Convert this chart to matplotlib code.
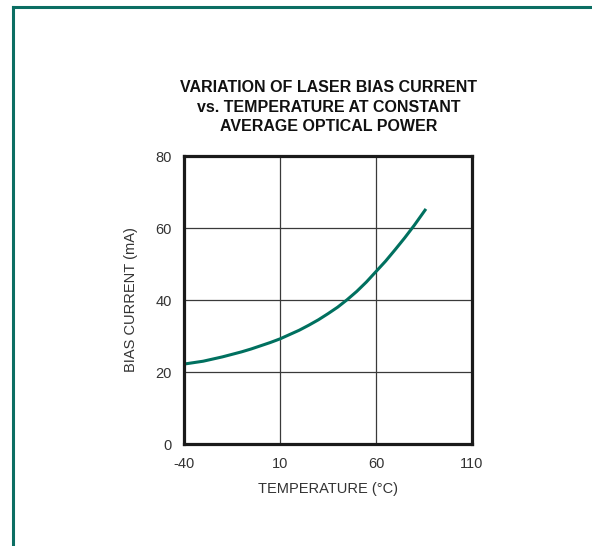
import matplotlib
matplotlib.use("Agg")
import matplotlib.pyplot as plt
from matplotlib.lines import Line2D

temps = [-40, -35, -30, -25, -20, -15, -10, -5, 0, 5, 10, 15, 20, 25, 30, 35, 40,
         45, 50, 55, 60, 65, 70, 75, 80, 86]
bias_ma = [22.2, 22.6, 23.0, 23.6, 24.2, 24.9, 25.6, 26.4, 27.3, 28.2, 29.2, 30.4,
           31.6, 33.0, 34.5, 36.2, 38.0, 40.1, 42.4, 45.0, 47.9, 50.8, 54.0, 57.3,
           60.8, 65.3]
x_ticks = [-40, 10, 60, 110]
y_ticks = [0, 20, 40, 60, 80]
title = "VARIATION OF LASER BIAS CURRENT\nvs. TEMPERATURE AT CONSTANT\nAVERAGE OPTICAL POWER"

plt.rcParams["axes.unicode_minus"] = False
FONT = ["Liberation Sans Narrow", "Liberation Sans", "DejaVu Sans"]
W, H = 592, 546
fig = plt.figure(figsize=(W / 100, H / 100), dpi=100)

# teal frame (left and top edges)
teal = "#0b6e63"
fig.add_artist(Line2D([13 / W, 13 / W], [0, 1 - 7 / H], color=teal, lw=2.2, transform=fig.transFigure))
fig.add_artist(Line2D([13 / W, 1], [1 - 7 / H, 1 - 7 / H], color=teal, lw=2.2, transform=fig.transFigure))

ax = fig.add_axes([184 / W, 1 - 444 / H, 288 / W, 288 / H])
ax.plot(temps, bias_ma, color="#00705f", lw=2.2, solid_capstyle="butt")
ax.set_xlim(-40, 110)
ax.set_ylim(0, 80)
ax.set_xticks(x_ticks)
ax.set_yticks(y_ticks)
ax.grid(True, color="#3a3a3a", lw=0.9)
ax.set_axisbelow(True)
for s in ax.spines.values():
    s.set_linewidth(2.3)
    s.set_color("#1a1a1a")
ax.tick_params(length=0, pad=9, labelsize=10.5, labelcolor="#333333")
ax.tick_params(axis="x", pad=9)
for lab in ax.get_xticklabels() + ax.get_yticklabels():
    lab.set_family(FONT)

ax.set_xlabel("TEMPERATURE (°C)", family=FONT, fontsize=10.5, color="#333333", labelpad=8)
ax.set_ylabel("BIAS CURRENT (mA)", family=FONT, fontsize=10.5, color="#333333", labelpad=12)

fig.text(329 / W, 1 - 107 / H, title, ha="center", va="center", family=FONT,
         fontsize=11.5, fontweight="bold", color="#111111", linespacing=1.4)

fig.savefig("out.png", dpi=100)
